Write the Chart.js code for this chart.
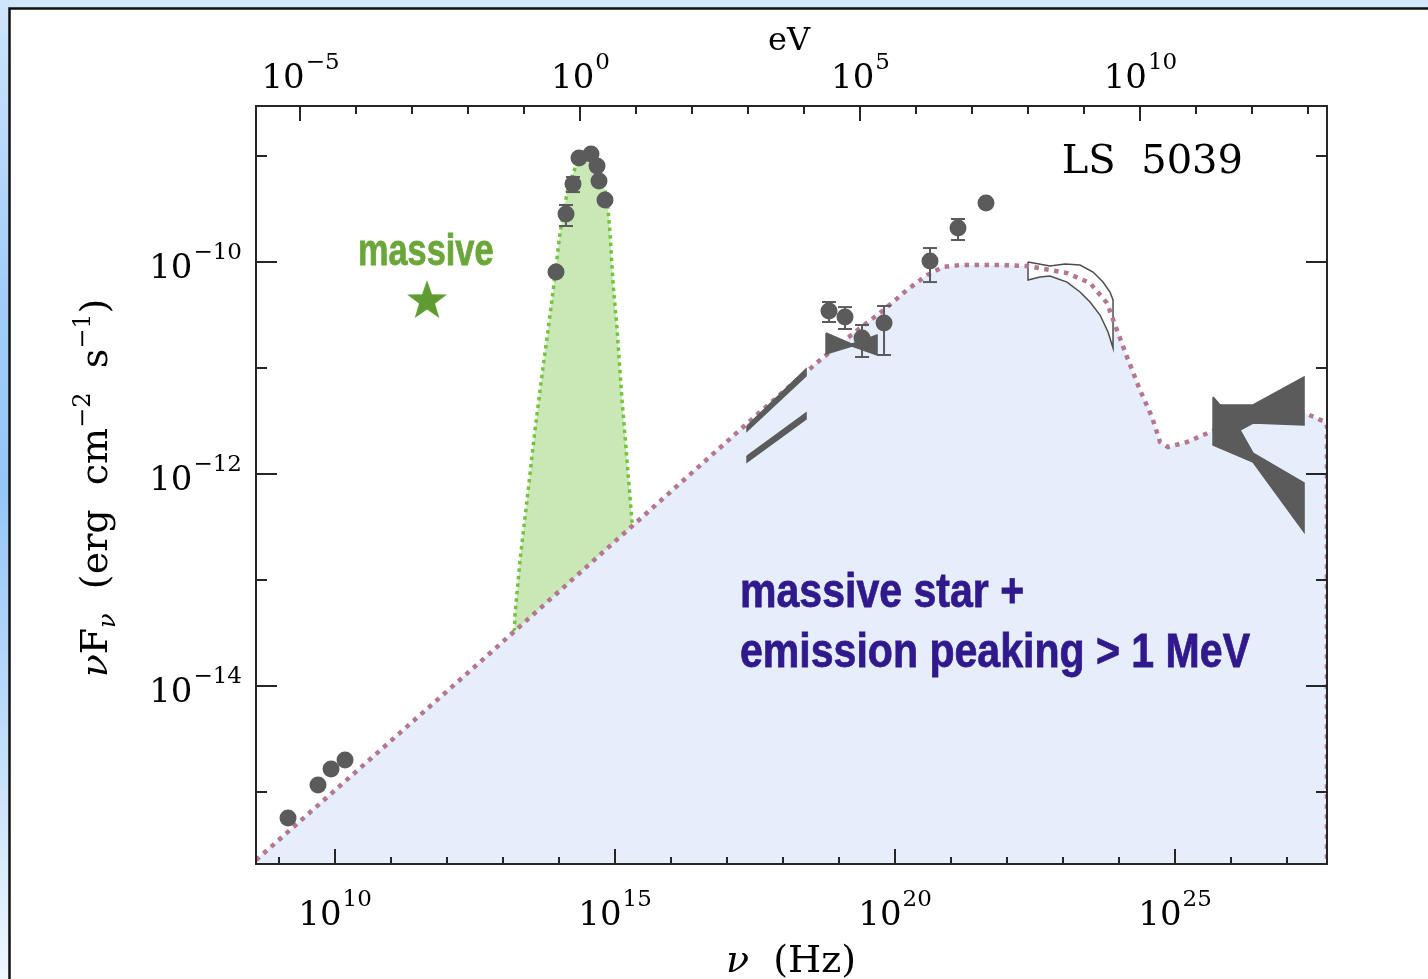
<!DOCTYPE html>
<html>
<head>
<meta charset="utf-8">
<title>LS 5039 SED</title>
<script src="https://cdn.jsdelivr.net/npm/chart.js@4.4.1/dist/chart.umd.min.js"></script>
<style>
  html, body { margin: 0; padding: 0; background: #fff; overflow: hidden; }
  #wrap { position: relative; width: 1428px; height: 979px; }
</style>
</head>
<body>
<div id="wrap"><canvas id="sed"></canvas></div>
<script>
// LS 5039 spectral energy distribution
// all values are log10(nu / Hz) and log10(nuFnu / erg cm^-2 s^-1)

const X_RANGE = [8.589, 27.714];
const Y_RANGE = [-15.679, -8.528];
const LOG_HZ_PER_EV = 14.383;

// tick decades
const hzTicks = [9, 10, 11, 12, 13, 14, 15, 16, 17, 18, 19, 20, 21, 22, 23, 24, 25, 26, 27];
const hzLabels = [10, 15, 20, 25];
const evTicks = [-5, -4, -3, -2, -1, 0, 1, 2, 3, 4, 5, 6, 7, 8, 9, 10, 11, 12, 13];
const evLabels = [-5, 0, 5, 10];
const fluxTicks = [-15, -14, -13, -12, -11, -10, -9];
const fluxLabels = [-14, -12, -10];

// emission model (pink dotted curve, blue area)
const modelLogNu = [8.589, 12.589, 15.268, 17.589, 18.661, 19.375, 19.732, 20.214, 20.571, 20.857, 21.161, 21.875,
  22.375, 23.071, 23.482, 23.786, 23.929, 24.143, 24.375, 24.589, 24.732, 24.875, 25.214, 25.625, 26.036, 26.696,
  27.321, 27.679, 27.714, 27.714];
const modelLogF = [-15.642, -13.774, -12.509, -11.415, -10.925, -10.623, -10.481, -10.264, -10.123, -10.047, -10.028,
  -10.028, -10.038, -10.104, -10.198, -10.387, -10.594, -10.896, -11.208, -11.462, -11.698, -11.745, -11.698, -11.604,
  -11.509, -11.434, -11.425, -11.509, -11.55, -15.679];

// massive star (green blackbody)
const starLogNu = [13.036, 13.214, 13.304, 13.429, 13.571, 13.696, 13.804, 13.875, 14.018, 14.161, 14.321, 14.429,
  14.589, 14.732, 14.857, 14.911, 14.964, 15.036, 15.125, 15.214, 15.304, 15.446];
const starLogF = [-15.679, -13.330, -12.811, -12.245, -11.585, -11.066, -10.642, -10.358, -9.726, -9.292, -9.066,
  -9.009, -9.038, -9.179, -9.387, -9.726, -10.198, -10.623, -11.302, -11.868, -12.453, -15.679];

// measured points
const obsLogNu = [9.161, 9.696, 9.929, 10.179, 13.946, 14.125, 14.25, 14.357, 14.571, 14.679, 14.714, 14.821,
  18.821, 19.107, 19.411, 19.804, 20.625, 21.125, 21.625];
const obsLogF = [-15.245, -14.934, -14.783, -14.698, -10.094, -9.547, -9.264, -9.019, -8.981, -9.094, -9.236, -9.415,
  -10.462, -10.519, -10.717, -10.575, -9.991, -9.679, -9.443];

// error bars
const errLogNu = [14.125, 14.25, 18.821, 19.107, 19.411, 19.804, 20.625, 21.125];
const errLogLo = [-9.660, -9.340, -10.566, -10.632, -10.896, -10.877, -10.189, -9.792];
const errLogHi = [-9.462, -9.198, -10.377, -10.425, -10.594, -10.415, -9.868, -9.594];

// spectral shapes
const wedgeLogNu = [17.357, 18.411, 18.411, 17.357, 17.357];
const wedgeUpLogF = [-11.547, -11.009, -11.075, -11.594, -11.547];
const wedgeLoLogF = [-11.830, -11.425, -11.481, -11.887, -11.830];

const bowtieLogNu = [18.768, 19.232, 19.679, 19.679, 19.232, 18.768, 18.768];
const bowtieLogF = [-10.670, -10.774, -10.689, -10.877, -10.792, -10.868, -10.670];

const bandLogNu = [22.375, 22.768, 23.036, 23.304, 23.536, 23.714, 23.839, 23.893, 23.893, 23.804, 23.661, 23.482,
  23.304, 23.071, 22.768, 22.589, 22.375, 22.375];
const bandLogF = [-10.000, -10.038, -10.019, -10.028, -10.094, -10.189, -10.283, -10.358, -10.811, -10.660, -10.500,
  -10.377, -10.283, -10.189, -10.132, -10.142, -10.170, -10.000];

const gammaLogNu = [25.679, 25.804, 26.393, 27.304, 27.304, 26.393, 26.161, 26.393, 27.304, 27.304, 26.393, 25.679, 25.679];
const gammaLogF = [-11.274, -11.349, -11.349, -11.085, -11.538, -11.519, -11.585, -11.802, -12.085, -12.547, -11.887,
  -11.726, -11.274];

// star symbol
const starMarkLogNu = [11.643];
const starMarkLogF = [-10.368];

const GREY = '#5b5b5b';
const SERIF = '"DejaVu Serif", "Liberation Serif", serif';

function toPoints(xs, ys) {
  return xs.map((lx, i) => ({ x: 10 ** lx, y: 10 ** ys[i] }));
}

function errorBarPoints() {
  const pts = [];
  errLogNu.forEach((lx, i) => {
    pts.push({ x: 10 ** lx, y: 10 ** errLogLo[i] });
    pts.push({ x: 10 ** lx, y: 10 ** errLogHi[i] });
    pts.push({ x: 10 ** lx, y: null });
  });
  return pts;
}

function makeStarImage(r, color) {
  const c = document.createElement('canvas');
  c.width = c.height = Math.ceil(r * 2 + 2);
  const g = c.getContext('2d');
  const cx = c.width / 2, cy = c.height / 2;
  g.beginPath();
  for (let k = 0; k < 10; k++) {
    const rad = k % 2 === 0 ? r : r * 0.4;
    const ang = -Math.PI / 2 + k * Math.PI / 5;
    g.lineTo(cx + rad * Math.cos(ang), cy + rad * Math.sin(ang));
  }
  g.closePath();
  g.fillStyle = color;
  g.fill();
  return c;
}

// "10^exp" label
function drawPow(ctx, exp, x, y, align) {
  ctx.font = '34px ' + SERIF;
  const wb = ctx.measureText('10').width;
  ctx.font = '23px ' + SERIF;
  const we = ctx.measureText(exp).width;
  const total = wb + 1 + we;
  const x0 = align === 'right' ? x - total : x - total / 2;
  ctx.textAlign = 'left';
  ctx.textBaseline = 'alphabetic';
  ctx.font = '34px ' + SERIF;
  ctx.fillText('10', x0, y);
  ctx.font = '23px ' + SERIF;
  ctx.fillText(exp, x0 + wb + 1, y - 19);
}

function drawRich(ctx, parts, x, y) {
  let total = 0;
  parts.forEach(p => { ctx.font = p.font; p.w = ctx.measureText(p.t).width; total += p.w; });
  let cx = x - total / 2;
  ctx.textAlign = 'left';
  ctx.textBaseline = 'alphabetic';
  parts.forEach(p => {
    ctx.font = p.font;
    ctx.fillText(p.t, cx, y + (p.dy || 0));
    cx += p.w;
  });
}

function condensedText(ctx, text, x, y, size, sx, color) {
  ctx.save();
  ctx.font = 'bold ' + size + 'px "Liberation Sans", Arial, sans-serif';
  ctx.fillStyle = color;
  ctx.strokeStyle = color;
  ctx.lineWidth = 0.8;
  ctx.textAlign = 'left';
  ctx.textBaseline = 'alphabetic';
  ctx.translate(x, y);
  ctx.scale(sx, 1);
  ctx.fillText(text, 0, 0);
  ctx.strokeText(text, 0, 0);
  ctx.restore();
}

const expText = v => (v < 0 ? '\u2212' + Math.abs(v) : String(v));

// page frame behind the chart
const framePlugin = {
  id: 'frame',
  beforeDraw(chart) {
    const { ctx, width, height } = chart;
    ctx.save();
    const g = ctx.createLinearGradient(0, 0, 0, height);
    g.addColorStop(0, '#cfe5fb');
    g.addColorStop(0.3, '#a2cdf8');
    g.addColorStop(0.5, '#96c6f6');
    g.addColorStop(0.75, '#c0ddfa');
    g.addColorStop(1, '#eff7fe');
    ctx.fillStyle = g;
    ctx.fillRect(0, 0, width, height);
    ctx.fillStyle = '#d3e7fb';
    ctx.fillRect(10, 0, width - 10, 8);
    ctx.fillStyle = '#ffffff';
    ctx.fillRect(9, 8, width - 9, height - 8);
    ctx.strokeStyle = '#111';
    ctx.lineWidth = 2.5;
    ctx.beginPath();
    ctx.moveTo(9.5, height);
    ctx.lineTo(9.5, 8.5);
    ctx.lineTo(width, 8.5);
    ctx.stroke();
    ctx.restore();
  }
};

// box, inward ticks, labels and annotations
const axesPlugin = {
  id: 'axesDecor',
  afterDatasetsDraw(chart) {
    const { ctx, chartArea: a, scales } = chart;
    const x = scales.x, y = scales.y, xTop = scales.xTop;
    ctx.save();

    // annotation texts
    condensedText(ctx, 'massive', 358, 265, 44, 0.78, '#6ba63a');
    condensedText(ctx, 'massive star +', 740, 607, 49, 0.838, '#30198c');
    condensedText(ctx, 'emission peaking > 1 MeV', 740, 667, 49, 0.838, '#30198c');

    ctx.strokeStyle = '#262626';
    ctx.lineWidth = 2;
    ctx.strokeRect(a.left, a.top, a.right - a.left, a.bottom - a.top);

    ctx.beginPath();
    hzTicks.forEach(d => {
      const px = Math.round(x.getPixelForValue(10 ** d));
      const len = hzLabels.includes(d) ? 15 : 7;
      ctx.moveTo(px, a.bottom);
      ctx.lineTo(px, a.bottom - len);
    });
    evTicks.forEach(d => {
      const px = Math.round(xTop.getPixelForValue(10 ** d));
      const len = evLabels.includes(d) ? 15 : 8;
      ctx.moveTo(px, a.top);
      ctx.lineTo(px, a.top + len);
    });
    fluxTicks.forEach(d => {
      const py = Math.round(y.getPixelForValue(10 ** d));
      const len = fluxLabels.includes(d) ? 21 : 11;
      ctx.moveTo(a.left, py);
      ctx.lineTo(a.left + len, py);
      ctx.moveTo(a.right, py);
      ctx.lineTo(a.right - len, py);
    });
    ctx.stroke();

    ctx.fillStyle = '#000';
    hzLabels.forEach(d => drawPow(ctx, expText(d), x.getPixelForValue(10 ** d), 925, 'center'));
    evLabels.forEach(d => drawPow(ctx, expText(d), xTop.getPixelForValue(10 ** d), 88, 'center'));
    fluxLabels.forEach(d => drawPow(ctx, expText(d), 242, y.getPixelForValue(10 ** d) + 16, 'right'));

    // axis titles
    const big = '38px ' + SERIF, small = '24px ' + SERIF, it = 'italic 38px ' + SERIF, itSmall = 'italic 24px ' + SERIF;
    drawRich(ctx, [{ t: '\u03bd', font: it }, { t: '  (Hz)', font: big }], 791, 972);
    ctx.font = '32px ' + SERIF;
    ctx.textAlign = 'center';
    ctx.fillText('eV', 789, 50);

    ctx.save();
    ctx.translate(107, 488);
    ctx.rotate(-Math.PI / 2);
    drawRich(ctx, [
      { t: '\u03bd', font: it },
      { t: 'F', font: big },
      { t: '\u03bd', font: itSmall, dy: 8 },
      { t: '  (erg  cm', font: big },
      { t: '\u22122', font: small, dy: -17 },
      { t: '  s', font: big },
      { t: '\u22121', font: small, dy: -17 },
      { t: ')', font: big }
    ], 0, 0);
    ctx.restore();

    ctx.font = '40px ' + SERIF;
    ctx.textAlign = 'right';
    ctx.fillText('LS  5039', 1243, 173);
    ctx.restore();
  }
};

const shape = (label, xs, ys, fillColor, lineColor, order) => ({
  label,
  data: toPoints(xs, ys),
  backgroundColor: fillColor,
  borderColor: lineColor,
  borderWidth: 1.5,
  fill: 'shape',
  pointRadius: 0,
  tension: 0,
  order
});

new Chart(document.getElementById('sed'), {
  type: 'line',
  data: {
    datasets: [
      {
        label: 'massive star',
        data: toPoints(starLogNu, starLogF),
        borderColor: '#74c33f',
        borderWidth: 3.5,
        borderDash: [3.5, 4],
        backgroundColor: '#c9e8b6',
        fill: 'start',
        pointRadius: 0,
        tension: 0,
        order: 10
      },
      {
        label: 'model area',
        data: toPoints(modelLogNu, modelLogF),
        borderColor: 'rgba(0,0,0,0)',
        borderWidth: 1,
        backgroundColor: '#e6eefc',
        fill: 'start',
        pointRadius: 0,
        tension: 0,
        order: 9
      },
      shape('COMPTEL', bandLogNu, bandLogF, '#ffffff', '#4d4d4d', 8),
      {
        label: 'model',
        data: toPoints(modelLogNu, modelLogF),
        borderColor: '#b47790',
        borderWidth: 4.5,
        borderDash: [4.5, 5.5],
        borderCapStyle: 'butt',
        fill: false,
        pointRadius: 0,
        tension: 0,
        order: 7
      },
      shape('hard X upper', wedgeLogNu, wedgeUpLogF, GREY, GREY, 6),
      shape('hard X lower', wedgeLogNu, wedgeLoLogF, GREY, GREY, 6),
      shape('X-ray bowtie', bowtieLogNu, bowtieLogF, GREY, GREY, 6),
      shape('gamma', gammaLogNu, gammaLogF, GREY, GREY, 6),
      {
        label: 'error bars',
        data: errorBarPoints(),
        borderColor: GREY,
        borderWidth: 2,
        showLine: true,
        spanGaps: false,
        fill: false,
        pointStyle: 'line',
        pointRadius: 7,
        pointBorderColor: GREY,
        pointBorderWidth: 2,
        order: 5
      },
      {
        label: 'data',
        data: toPoints(obsLogNu, obsLogF),
        showLine: false,
        pointRadius: 8.5,
        pointBackgroundColor: GREY,
        pointBorderWidth: 0,
        pointBorderColor: GREY,
        order: 4
      },
      {
        label: 'massive star symbol',
        data: toPoints(starMarkLogNu, starMarkLogF),
        showLine: false,
        pointStyle: makeStarImage(21, '#5e9c31'),
        pointRadius: 21,
        order: 3
      }
    ]
  },
  options: {
    responsive: true,
    maintainAspectRatio: false,
    animation: false,
    events: [],
    layout: { padding: { left: 256, right: 101, top: 106, bottom: 115 } },
    plugins: {
      legend: { display: false },
      tooltip: { enabled: false }
    },
    scales: {
      x: {
        type: 'logarithmic',
        display: false,
        bounds: 'data',
        min: 10 ** X_RANGE[0],
        max: 10 ** X_RANGE[1]
      },
      xTop: {
        type: 'logarithmic',
        display: false,
        position: 'top',
        bounds: 'data',
        min: 10 ** (X_RANGE[0] - LOG_HZ_PER_EV),
        max: 10 ** (X_RANGE[1] - LOG_HZ_PER_EV)
      },
      y: {
        type: 'logarithmic',
        display: false,
        bounds: 'data',
        min: 10 ** Y_RANGE[0],
        max: 10 ** Y_RANGE[1]
      }
    }
  },
  plugins: [framePlugin, axesPlugin]
});
</script>
</body>
</html>
